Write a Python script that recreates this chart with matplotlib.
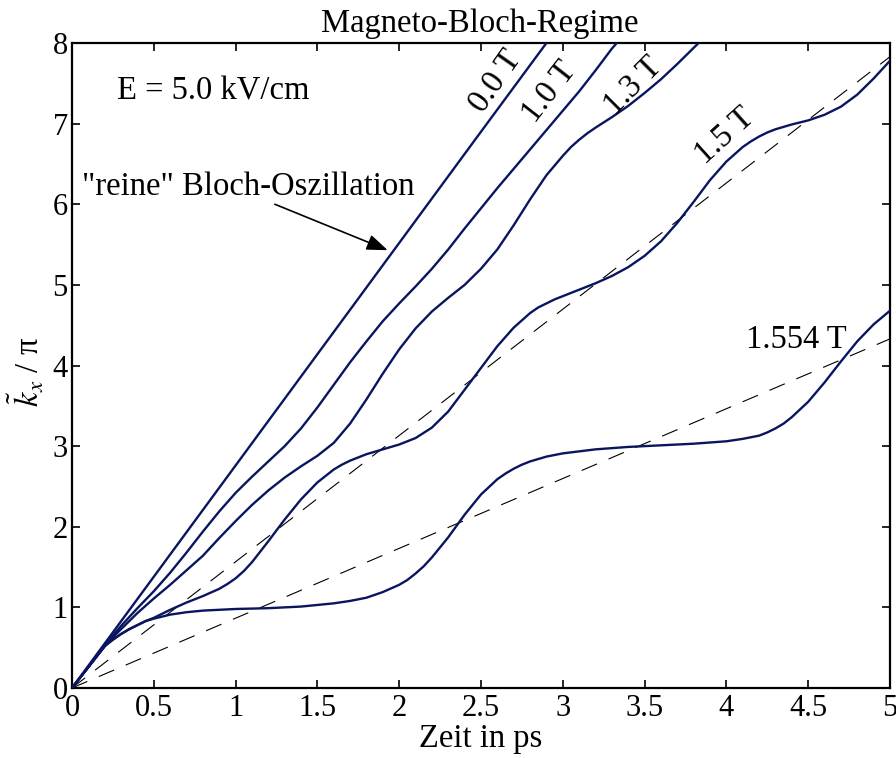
import matplotlib
matplotlib.use("Agg")
import matplotlib.pyplot as plt

plt.rcParams['font.family'] = ['Liberation Serif', 'DejaVu Serif']
plt.rcParams['mathtext.fontset'] = 'stix'
plt.rcParams['lines.scale_dashes'] = False

# ---- data ----
t_00 = [0, 0.5, 1.0, 1.5, 2.0, 2.5, 2.9]
k_00 = [0, 1.38, 2.76, 4.14, 5.52, 6.90, 8.0]

t_10 = [0, 0.1, 0.2, 0.25, 0.3, 0.4, 0.5, 0.6, 0.7, 0.8, 0.9, 1.0, 1.1, 1.2, 1.3,
        1.4, 1.5, 1.6, 1.7, 1.8, 1.9, 2.0, 2.1, 2.2, 2.3, 2.4, 2.5, 2.6, 2.7,
        2.8, 2.9, 3.0, 3.1, 3.2, 3.3, 3.33]
k_10 = [0, 0.26, 0.52, 0.65, 0.77, 0.99, 1.20, 1.43, 1.68, 1.94, 2.19, 2.42, 2.62,
        2.81, 3.00, 3.22, 3.48, 3.76, 4.04, 4.30, 4.55, 4.77, 4.98, 5.20, 5.44,
        5.70, 5.95, 6.20, 6.44, 6.68, 6.92, 7.16, 7.40, 7.66, 7.93, 8.0]

t_13 = [0, 0.1, 0.2, 0.25, 0.3, 0.4, 0.5, 0.6, 0.7, 0.8, 0.9, 1.0, 1.1, 1.2, 1.3,
        1.4, 1.5, 1.6, 1.7, 1.8, 1.9, 2.0, 2.1, 2.2, 2.3, 2.4, 2.5, 2.6, 2.7,
        2.8, 2.9, 3.0, 3.05, 3.1, 3.15, 3.2, 3.3, 3.4, 3.5, 3.6, 3.7, 3.8, 3.83]
k_13 = [0, 0.26, 0.52, 0.63, 0.73, 0.93, 1.11, 1.28, 1.46, 1.64, 1.86, 2.07, 2.27,
        2.45, 2.61, 2.75, 2.88, 3.04, 3.28, 3.58, 3.90, 4.20, 4.46, 4.67, 4.84,
        5.00, 5.20, 5.44, 5.74, 6.06, 6.36, 6.60, 6.71, 6.80, 6.88, 6.95, 7.08,
        7.22, 7.38, 7.55, 7.74, 7.94, 8.0]

t_15 = [0, 0.1, 0.2, 0.25, 0.3, 0.35, 0.4, 0.45, 0.5, 0.6, 0.7, 0.8, 0.9, 0.95,
        1.0, 1.05, 1.1, 1.2, 1.3, 1.4, 1.5, 1.6, 1.65, 1.7, 1.75, 1.8, 1.9, 2.0,
        2.1, 2.2, 2.3, 2.4, 2.5, 2.6, 2.7, 2.8, 2.85, 2.9, 2.95, 3.0, 3.1, 3.2,
        3.3, 3.4, 3.5, 3.6, 3.7, 3.8, 3.9, 4.0, 4.1, 4.15, 4.2, 4.25, 4.3, 4.35,
        4.4, 4.5, 4.6, 4.7, 4.8, 4.9, 5.0]
k_15 = [0, 0.26, 0.52, 0.60, 0.67, 0.73, 0.78, 0.83, 0.87, 0.97, 1.06, 1.14, 1.23,
        1.29, 1.36, 1.45, 1.56, 1.82, 2.09, 2.34, 2.55, 2.71, 2.77, 2.82, 2.86,
        2.90, 2.96, 3.02, 3.10, 3.23, 3.43, 3.70, 3.97, 4.24, 4.47, 4.65, 4.72,
        4.77, 4.82, 4.86, 4.94, 5.02, 5.11, 5.22, 5.36, 5.54, 5.77, 6.03, 6.30,
        6.53, 6.71, 6.78, 6.84, 6.89, 6.93, 6.96, 6.99, 7.04, 7.11, 7.21, 7.36,
        7.56, 7.78]

t_1554 = [0, 0.1, 0.2, 0.25, 0.3, 0.35, 0.4, 0.45, 0.5, 0.6, 0.7, 0.8, 0.9, 1.0,
          1.2, 1.4, 1.6, 1.7, 1.8, 1.9, 2.0, 2.05, 2.1, 2.15, 2.2, 2.3, 2.4, 2.5,
          2.6, 2.65, 2.7, 2.75, 2.8, 2.9, 3.0, 3.2, 3.4, 3.6, 3.8, 4.0, 4.1, 4.15,
          4.2, 4.25, 4.3, 4.35, 4.4, 4.5, 4.6, 4.7, 4.8, 4.9, 5.0]
k_1554 = [0, 0.26, 0.52, 0.60, 0.67, 0.73, 0.78, 0.83, 0.86, 0.91, 0.94, 0.96,
          0.97, 0.98, 0.99, 1.01, 1.05, 1.08, 1.12, 1.19, 1.28, 1.34, 1.42, 1.51,
          1.62, 1.87, 2.15, 2.40, 2.59, 2.66, 2.72, 2.77, 2.81, 2.87, 2.91, 2.96,
          2.99, 3.01, 3.03, 3.06, 3.09, 3.11, 3.13, 3.17, 3.22, 3.28, 3.36, 3.55,
          3.79, 4.05, 4.30, 4.51, 4.68]

# drift asymptotes (dashed)
t_drift = [0, 5]
k_drift_15 = [0, 7.83]
k_drift_1554 = [0, 4.33]

x_ticks = [0, 0.5, 1, 1.5, 2, 2.5, 3, 3.5, 4, 4.5, 5]
x_ticklabels = ['0', '0.5', '1', '1.5', '2', '2.5', '3', '3.5', '4', '4.5', '5']
y_ticks = [0, 1, 2, 3, 4, 5, 6, 7, 8]

curve_labels = ['0.0 T', '1.0 T', '1.3 T', '1.5 T', '1.554 T']

# ---- figure ----
fig = plt.figure(figsize=(8.96, 7.58), dpi=100)
ax = fig.add_axes([72/896, 1-688/758, 818/896, 645/758])

navy = '#0a1560'
lw = 1.7
for t, k in [(t_00, k_00), (t_10, k_10), (t_13, k_13), (t_15, k_15), (t_1554, k_1554)]:
    ax.plot(t, k, color=navy, lw=lw, solid_joinstyle='round', zorder=3)

for kd in [k_drift_15, k_drift_1554]:
    ax.plot(t_drift, kd, color='black', lw=0.8, dashes=(12, 9), zorder=2)

ax.set_xlim(0, 5)
ax.set_ylim(0, 8)
ax.set_xticks(x_ticks)
ax.set_xticklabels(x_ticklabels)
ax.set_yticks(y_ticks)
ax.tick_params(direction='in', length=6, width=1.2, top=True, right=True,
               labelsize=22, pad=4)
ax.tick_params(axis='y', pad=3)
for s in ax.spines.values():
    s.set_linewidth(1.6)

fs = 23.5
# curve labels
ax.text(2.59, 7.52, curve_labels[0], rotation=55, ha='center', va='center',
        rotation_mode='anchor', fontsize=fs)
ax.text(2.92, 7.39, curve_labels[1], rotation=52, ha='center', va='center',
        rotation_mode='anchor', fontsize=fs)
ax.text(3.43, 7.47, curve_labels[2], rotation=45, ha='center', va='center',
        rotation_mode='anchor', fontsize=fs)
ax.text(3.99, 6.84, curve_labels[3], rotation=42, ha='center', va='center',
        rotation_mode='anchor', fontsize=fs)
ax.text(4.43, 4.22, curve_labels[4], ha='center', va='baseline', fontsize=fs)

ax.text(0.275, 7.30, 'E = 5.0 kV/cm', ha='left', va='baseline', fontsize=fs)
ax.text(1.08, 6.12, '"reine" Bloch-Oszillation', ha='center', va='baseline',
        fontsize=fs)
ax.annotate('', xy=(1.93, 5.43), xytext=(1.24, 6.0),
            arrowprops=dict(arrowstyle='-|>,head_length=0.85,head_width=0.32',
                            color='black', lw=1.2, mutation_scale=15,
                            shrinkA=0, shrinkB=0))

fig.text(480/896, 1-31.7/758, 'Magneto-Bloch-Regime', ha='center',
         va='baseline', fontsize=fs)
fig.text(481/896, 1-746.7/758, 'Zeit in ps', ha='center', va='baseline',
         fontsize=fs)
fig.text(26/896, 1-372/758, r'$\tilde{k}_x$ / π', rotation=90, ha='center',
         va='center', fontsize=fs)

fig.savefig('out.png', dpi=100)
